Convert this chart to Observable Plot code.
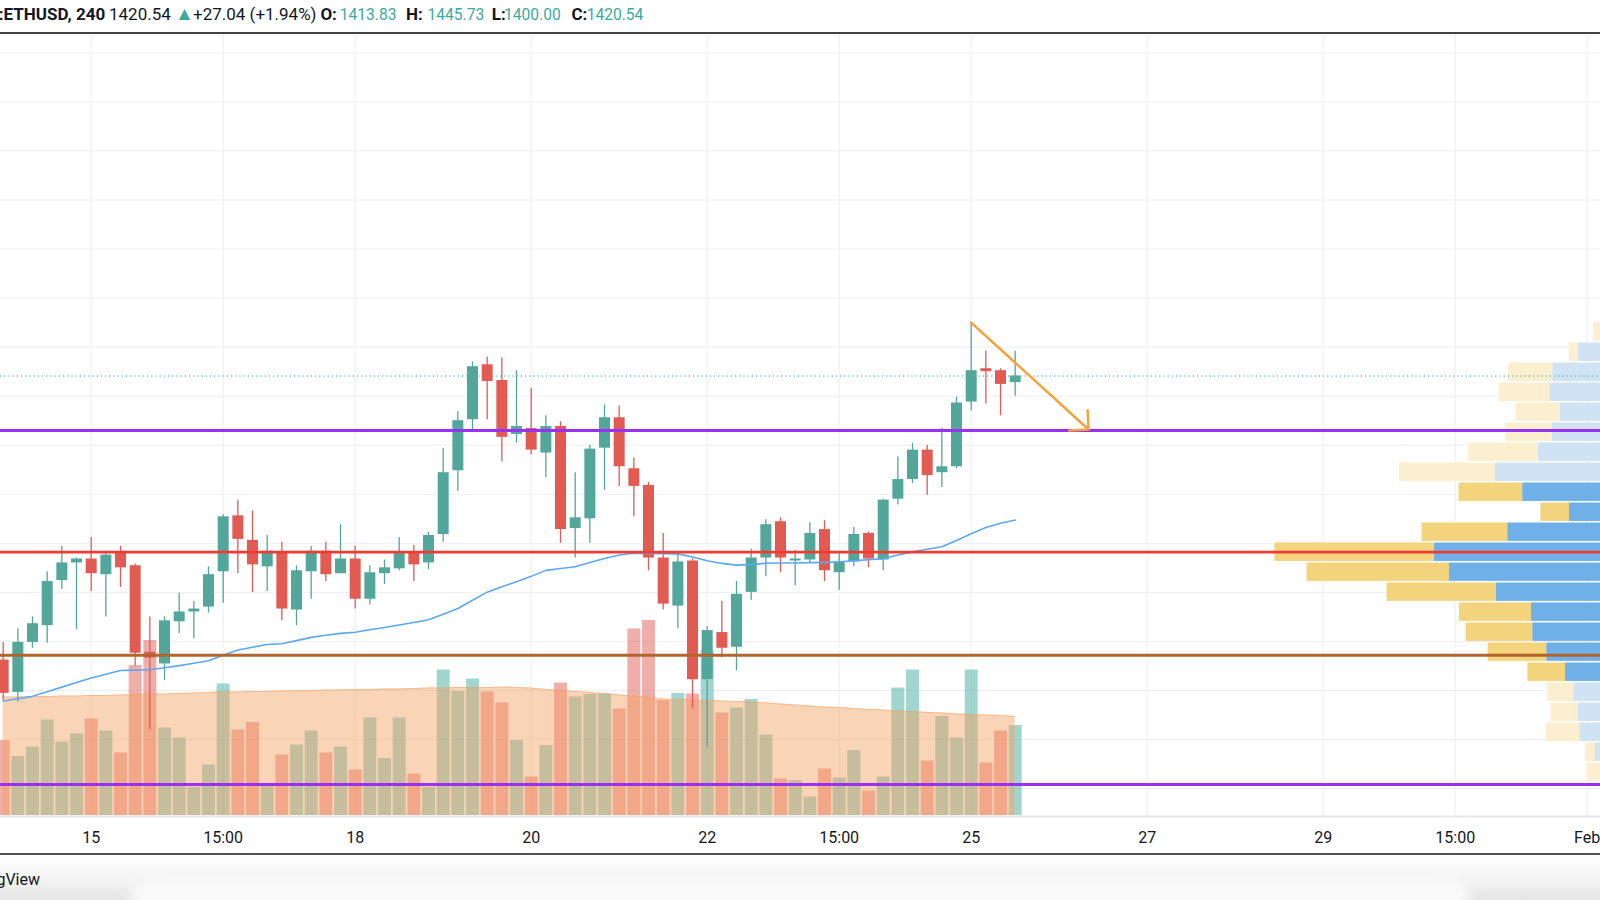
<!DOCTYPE html>
<html><head><meta charset="utf-8">
<script src="https://cdn.jsdelivr.net/npm/d3@7"></script>
<script src="https://cdn.jsdelivr.net/npm/@observablehq/plot@0.6"></script>
<style>
html,body{margin:0;padding:0;background:#fff;}
#root{position:relative;width:1600px;height:900px;overflow:hidden;background:#fff;font-family:Roboto,"Noto Sans",sans-serif;color:#131722;}
#root svg{position:absolute;left:0;top:0;}
.hd{position:absolute;top:4px;line-height:21px;font-size:17px;white-space:nowrap;}
.b{font-weight:700;}
.v{color:#3aab9c;font-size:15.6px;}
</style></head><body><div id="root"></div>
<script>
// ---- data (ETHUSD, 4h candles, from 14 Jan 2021) ----
const openP  = [1131,1098,1149,1166,1212,1230,1234,1218,1241,1227,
                1139,1127,1170,1180,1185,1221,1278,1253,1226,1241,
                1182,1221,1242,1219,1234,1193,1219,1224,1241,1230,
                1259,1324,1376,1432,1416,1361,1367,1342,1369,1265,
                1275,1347,1378,1326,1309,1235,1186,1232,1111,1159,
                1144,1200,1235,1272,1232,1233,1264,1220,1231,1260,
                1233,1295,1315,1345,1322,1328,1394,1428,1426,1413.83];
const highP  = [1149,1163,1175,1221,1247,1235,1256,1242,1247,1229,
                1175,1175,1199,1191,1226,1279,1294,1283,1258,1251,
                1227,1247,1251,1269,1247,1227,1233,1256,1248,1261,
                1347,1384,1435,1440,1439,1426,1408,1380,1374,1322,
                1350,1391,1390,1337,1312,1260,1240,1234,1165,1191,
                1211,1244,1274,1276,1243,1271,1273,1242,1266,1261,
                1295,1338,1352,1350,1367,1399,1475,1446,1428,1445.73];
const lowP   = [1090,1088,1143,1148,1203,1162,1201,1175,1205,1125,
                1060,1110,1158,1153,1179,1189,1219,1200,1201,1171,
                1166,1193,1211,1219,1183,1187,1208,1222,1211,1223,
                1251,1303,1366,1376,1333,1352,1340,1317,1250,1235,
                1250,1304,1308,1277,1222,1182,1163,1081,1042,1133,
                1120,1192,1216,1220,1207,1230,1211,1202,1226,1225,
                1222,1289,1311,1299,1307,1326,1385,1392,1380,1400.00];
const closeP = [1097,1149,1168,1211,1230,1234,1219,1238,1225,1138,
                1133,1171,1180,1183,1218,1277,1254,1228,1242,1183,
                1222,1242,1218,1234,1193,1220,1225,1241,1228,1258,
                1322,1375,1430,1415,1358,1369,1345,1369,1264,1276,
                1346,1378,1328,1308,1235,1188,1231,1111,1161,1143,
                1198,1235,1269,1235,1234,1260,1222,1231,1259,1234,
                1294,1315,1345,1319,1328,1393,1426,1425,1412,1420.54];
const priceMA = [1089.2,1091.5,1094.0,1098.7,1103.4,1108.0,1112.7,1116.6,1120.4,1120.7,
                 1121.1,1123.1,1125.3,1127.7,1130.3,1136.0,1141.2,1144.1,1146.9,1147.6,
                 1150.8,1154.1,1156.2,1158.2,1159.4,1161.9,1164.2,1166.8,1169.2,1172.0,
                 1177.8,1183.6,1191.9,1200.2,1205.6,1210.9,1216.3,1222.4,1224.4,1226.1,
                 1230.4,1234.6,1238.0,1239.9,1239.7,1239.4,1239.2,1236.0,1232.3,1229.5,
                 1227.8,1228.3,1229.7,1229.9,1230.0,1230.3,1230.6,1231.2,1232.2,1233.4,
                 1234.3,1238.1,1241.3,1244.0,1246.5,1252.9,1259.8,1266.2,1270.5,1273.7];
const volume = [15.0,11.8,13.7,19.1,14.7,16.3,19.3,16.9,12.5,30.0,
                35.0,17.5,15.5,5.6,10.1,26.3,17.1,18.6,5.8,12.1,
                14.1,16.9,12.5,13.7,9.1,19.5,11.4,19.5,8.3,5.6,
                29.1,24.8,27.3,24.7,22.5,15.0,7.7,14.0,26.5,23.7,
                24.2,24.3,21.3,37.3,39.0,23.0,24.4,24.3,33.0,20.5,
                21.5,23.2,16.1,7.3,7.0,3.7,9.3,7.5,13.0,4.9,
                7.7,25.5,29.1,10.9,19.8,15.5,29.1,10.5,16.9,18.0];
const volumeMA = [23.7,23.7,23.8,23.8,23.9,23.9,24.0,24.0,24.1,24.2,
                  24.3,24.3,24.4,24.5,24.6,24.7,24.7,24.8,24.8,24.9,
                  25.0,25.0,25.1,25.1,25.2,25.2,25.3,25.3,25.4,25.5,
                  25.5,25.6,25.6,25.6,25.7,25.6,25.5,25.2,25.0,24.8,
                  24.6,24.4,24.1,23.9,23.6,23.3,23.2,23.1,23.0,22.9,
                  22.8,22.7,22.5,22.3,22.1,21.9,21.7,21.6,21.4,21.2,
                  21.1,20.9,20.8,20.6,20.5,20.3,20.2,20.1,20.0,19.8];
// volume profile (rows from top): bin edges, up (buy) and down (sell) volume
const profileEdges = [1475.4,1455.0,1434.6,1414.2,1393.8,1373.5,1353.1,1332.7,1312.3,1291.9,1271.5,1251.1,
                      1230.7,1210.4,1190.0,1169.6,1149.2,1128.8,1108.4,1088.0,1067.6,1047.2,1026.8,1006.4];
const profileUp   = [27,41,53.9,55.4,50,54.2,61.2,82.5,68.9,45.5,76.4,113,105.5,82,64.5,63.9,56.9,47.5,43.4,41.2,40.4,32.5,27.5];
const profileDown = [6.5,4.7,22,25.2,22.2,23.3,34.8,48,31.8,14.3,42.8,79.8,71.2,54.7,36,33.3,29.3,18.8,13,13.5,16.7,5,9.2];
const valueAreaLow = 1108, valueAreaHigh = 1313;
// drawn levels
const resistanceLevel = 1365, redLevel = 1241, brownLevel = 1136, lowerLevel = 1004;
const lastClose = 1420.54, changeAbs = 27.04, changePct = 1.94;
const arrowStart = {t: new Date("2021-01-25T00:00Z"), p: 1475};
const arrowEnd   = {t: new Date("2021-01-26T08:00Z"), p: 1366};
const gridPrices = [1000,1050,1100,1150,1200,1250,1300,1350,1400,1450,1500,1550,1600,1650,1700,1750];
const tickDates = ["2021-01-15","2021-01-16T12:00","2021-01-18","2021-01-20","2021-01-22","2021-01-23T12:00",
                   "2021-01-25","2021-01-27","2021-01-29","2021-01-30T12:00","2021-02-01"].map(s => new Date(s + (s.length > 10 ? "Z" : "T00:00Z")));
const tickLabels = ["15","15:00","18","20","22","15:00","25","27","29","15:00","Feb"];

// ---- build ----
const root = document.getElementById("root");
const start = Date.UTC(2021, 0, 14);
const candles = openP.map((o, i) => ({
  t: new Date(start + i * 4 * 3600e3), open: o, high: highP[i], low: lowP[i], close: closeP[i],
  vol: volume[i], volMA: volumeMA[i], ma: priceMA[i], up: closeP[i] >= o
}));
const profile = profileUp.map((u, i) => ({hi: profileEdges[i], lo: profileEdges[i + 1], up: u, down: profileDown[i],
  va: profileEdges[i + 1] >= valueAreaLow - 1 && profileEdges[i] <= valueAreaHigh + 1}));

const UP = "#52a69a", DOWN = "#e15b53";
const xScale = {type: "utc", domain: [new Date("2021-01-13T23:16:10Z"), new Date("2021-02-01T03:37:38Z")], range: [0, 1600]};
const priceDomain = [971.5, 1768.7];
const priceY = {domain: priceDomain, range: [816, 34], axis: null};
const svgStyle = {background: "transparent", overflow: "hidden", fontFamily: "Roboto, sans-serif", fontSize: "16px", color: "#131722"};

function add(opts) {
  const el = Plot.plot(Object.assign({width: 1600, height: 900, margin: 0, style: svgStyle}, opts));
  root.appendChild(el);
}

// layer 1: grid + time axis
const labelMap = new Map(tickDates.map((d, i) => [+d, tickLabels[i]]));
add({
  marginBottom: 84,
  x: Object.assign({}, xScale, {ticks: tickDates, tickFormat: d => labelMap.get(+d), tickSize: 0, tickPadding: 15, label: null}),
  y: priceY,
  marks: [
    Plot.ruleY(gridPrices, {stroke: "#eceef2", strokeWidth: 1}),
    Plot.ruleX(tickDates, {y1: priceDomain[0], y2: priceDomain[1], stroke: "#eceef2", strokeWidth: 1}),
    Plot.ruleY([priceDomain[0]], {stroke: "#e3e5ea", strokeWidth: 2})
  ]
});

// layer 2: volume
add({
  x: Object.assign({}, xScale, {axis: null}),
  y: {domain: [0, 163], range: [815, 0], axis: null},
  marks: [
    Plot.ruleX(candles.filter(d => d.up), {x: "t", y1: 0, y2: "vol", stroke: "#2ea396", strokeOpacity: 0.45, strokeWidth: 13}),
    Plot.ruleX(candles.filter(d => !d.up), {x: "t", y1: 0, y2: "vol", stroke: "#e0554f", strokeOpacity: 0.48, strokeWidth: 13}),
    Plot.areaY(candles, {x: "t", y: "volMA", fill: "#f5a060", fillOpacity: 0.45}),
    Plot.lineY(candles, {x: "t", y: "volMA", stroke: "#f5a060", strokeOpacity: 0.5, strokeWidth: 1})
  ]
});

// layer 3: volume profile
add({
  x: {domain: [0, 200], range: [1660, 1260], axis: null},
  y: priceY,
  marks: [
    Plot.rectX(profile, {y1: "lo", y2: "hi", x1: 0, x2: "up", fill: d => d.va ? "#6fb0e8" : "#cfe3f5", insetTop: 0.8, insetBottom: 0.8}),
    Plot.rectX(profile, {y1: "lo", y2: "hi", x1: "up", x2: d => d.up + d.down, fill: d => d.va ? "#f3d37c" : "#fcefcf", insetTop: 0.8, insetBottom: 0.8})
  ]
});

// layer 4: price
add({
  x: Object.assign({}, xScale, {axis: null}),
  y: priceY,
  marks: [
    Plot.ruleY([lastClose], {stroke: "#26a69a", strokeWidth: 1, strokeDasharray: "1.2,3"}),
    Plot.ruleX(candles, {x: "t", y1: "low", y2: "high", stroke: d => d.up ? UP : DOWN, strokeWidth: 1.3}),
    Plot.ruleX(candles, {x: "t", y1: "open", y2: "close", stroke: d => d.up ? UP : DOWN, strokeWidth: 11}),
    Plot.lineY(candles, {x: "t", y: "ma", stroke: "#5ea7f2", strokeWidth: 1.6}),
    Plot.ruleY([resistanceLevel], {stroke: "#9b30f5", strokeWidth: 3}),
    Plot.ruleY([redLevel], {stroke: "#ef3b32", strokeWidth: 2.6}),
    Plot.ruleY([brownLevel], {stroke: "#b3642c", strokeWidth: 3}),
    Plot.ruleY([lowerLevel], {stroke: "#9b30f5", strokeWidth: 3}),
    Plot.arrow([{a: arrowStart, b: arrowEnd}], {x1: d => d.a.t, y1: d => d.a.p, x2: d => d.b.t, y2: d => d.b.p,
      stroke: "#f5a23c", strokeWidth: 2.5, headAngle: 90, headLength: 11.6})
  ]
});

// header
const last = candles[candles.length - 1];
const f2 = v => v.toFixed(2);
const header = [
  [-200, "BITSTAMP:", "b", "text-align:right;width:203.6px"],
  [3.6, "ETHUSD, 240", "b", ""],
  [109, f2(lastClose), "", ""],
  [175, "▲", "v", "font-size:19px;top:3px"],
  [193, "+" + f2(changeAbs) + " (+" + f2(changePct) + "%)", "", ""],
  [320.4, "O:", "b", ""], [339.8, f2(last.open), "v", "top:5px"],
  [406, "H:", "b", ""], [427.5, f2(last.high), "v", "top:5px"],
  [491.8, "L:", "b", ""], [504, f2(last.low), "v", "top:5px"],
  [571.4, "C:", "b", ""], [586.7, f2(last.close), "v", "top:5px"]
];
for (const [x, txt, cls, st] of header) {
  const s = document.createElement("span");
  s.className = "hd " + cls; s.textContent = txt;
  s.style.cssText += "left:" + x + "px;" + st;
  root.appendChild(s);
}
function box(css) { const d = document.createElement("div"); d.style.cssText = "position:absolute;" + css; root.appendChild(d); return d; }
box("left:0;top:32px;width:1600px;height:2px;background:#454545;");
box("left:0;top:856px;width:1600px;height:44px;background:linear-gradient(#ffffff,#f3f3f3 55%,#e4e4e4);");
box("left:130px;top:878px;width:1340px;height:40px;background:#fafafa;border-radius:20px;filter:blur(7px);");
box("left:0;top:852.5px;width:1600px;height:2px;background:#505050;");
const tv = box("left:-160px;top:870px;width:200px;text-align:right;font-size:16px;line-height:20px;color:#131722;");
tv.textContent = "TradingView";
</script></body></html>
